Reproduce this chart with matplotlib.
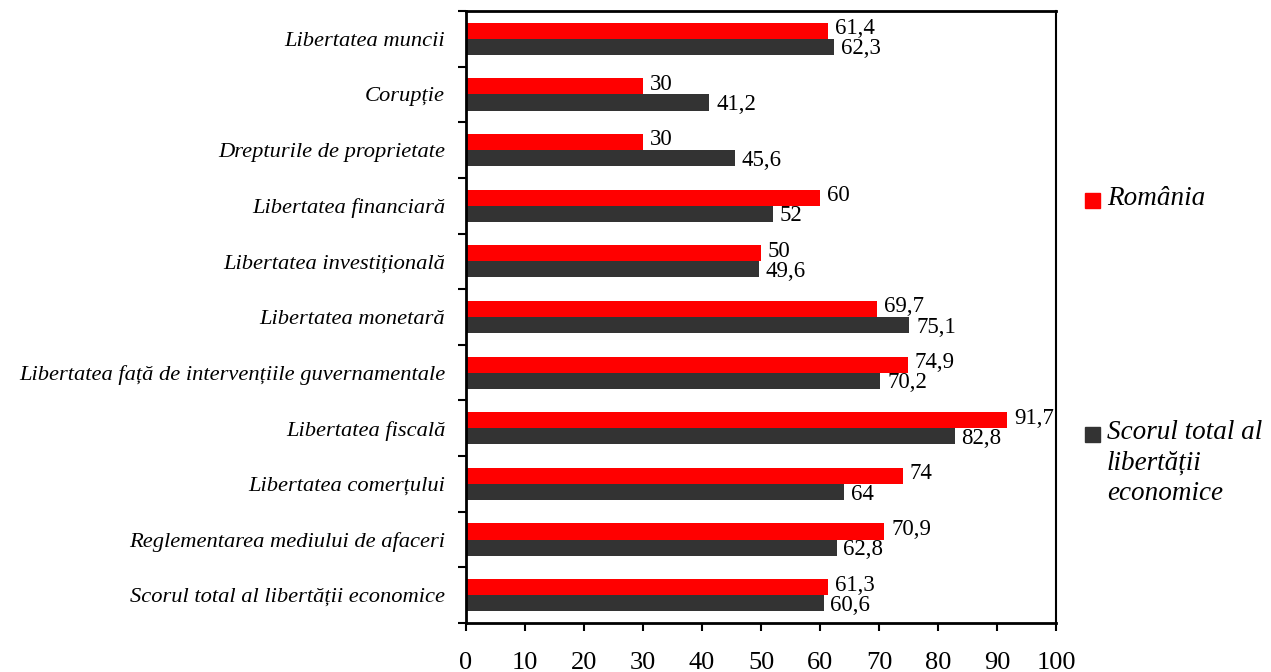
import matplotlib
matplotlib.use("Agg")
import matplotlib.pyplot as plt
import numpy as np
from matplotlib.patches import Rectangle

categories = [
    "Libertatea muncii",
    "Corupție",
    "Drepturile de proprietate",
    "Libertatea financiară",
    "Libertatea investițională",
    "Libertatea monetară",
    "Libertatea față de intervențiile guvernamentale",
    "Libertatea fiscală",
    "Libertatea comerțului",
    "Reglementarea mediului de afaceri",
    "Scorul total al libertății economice",
]
romania = [61.4, 30, 30, 60, 50, 69.7, 74.9, 91.7, 74, 70.9, 61.3]
total = [62.3, 41.2, 45.6, 52, 49.6, 75.1, 70.2, 82.8, 64, 62.8, 60.6]
xticks = [0, 10, 20, 30, 40, 50, 60, 70, 80, 90, 100]
series_names = ["România", "Scorul total al\nlibertății\neconomice"]

RED = "#FF0000"
DARK = "#333333"
FONT = "Liberation Serif"

fig = plt.figure(figsize=(12.71, 6.72), dpi=100)
ax = fig.add_axes([466/1271, 1-623/672, (1056-466)/1271, (623-11)/672])

n = len(categories)
y = np.arange(n)  # 0 at top after inversion
h = 0.29
ax.barh(y - h/2, romania, height=h, color=RED, zorder=2)
ax.barh(y + h/2, total, height=h, color=DARK, zorder=2)

def fmt(v):
    return ("%g" % v).replace(".", ",")

for yi, r, t in zip(y, romania, total):
    ax.annotate(fmt(r), (r, yi - h/2), xytext=(5, 1.5), textcoords="offset points",
                ha="left", va="center", fontsize=16.5, family=FONT)
    ax.annotate(fmt(t), (t, yi + h/2), xytext=(5, -1.5), textcoords="offset points",
                ha="left", va="center", fontsize=16.5, family=FONT)

ax.set_xlim(0, 100)
ax.set_ylim(n - 0.5, -0.5)
ax.set_xticks(xticks)
ax.set_xticklabels([str(v) for v in xticks], family=FONT, fontsize=19)
ax.set_yticks(np.arange(-0.5, n, 1.0))
ax.set_yticklabels([])
ax.set_yticks(y, minor=True)
ax.set_yticklabels(categories, minor=True, family=FONT, style="italic", fontsize=16.2)
ax.tick_params(axis="y", which="minor", length=0, pad=15)
ax.tick_params(axis="y", which="major", length=6, width=1.5, direction="out")
ax.tick_params(axis="x", length=6, width=1.5, direction="out", pad=15)
for s in ["left", "bottom", "top"]:
    ax.spines[s].set_linewidth(2)
ax.spines["right"].set_linewidth(1.5)

# legend
colors = [RED, DARK]
ys = [201, 435]
for c, yy, name in zip(colors, ys, series_names):
    fig.add_artist(Rectangle((1085/1271, 1-(yy+7)/672), 15/1271, 15/672,
                             transform=fig.transFigure, color=c))
    fig.text(1107/1271, 1-(yy-15)/672, name, family=FONT, style="italic",
             fontsize=19.5, va="top", ha="left", linespacing=1.3)

fig.savefig("out.png", dpi=100)
